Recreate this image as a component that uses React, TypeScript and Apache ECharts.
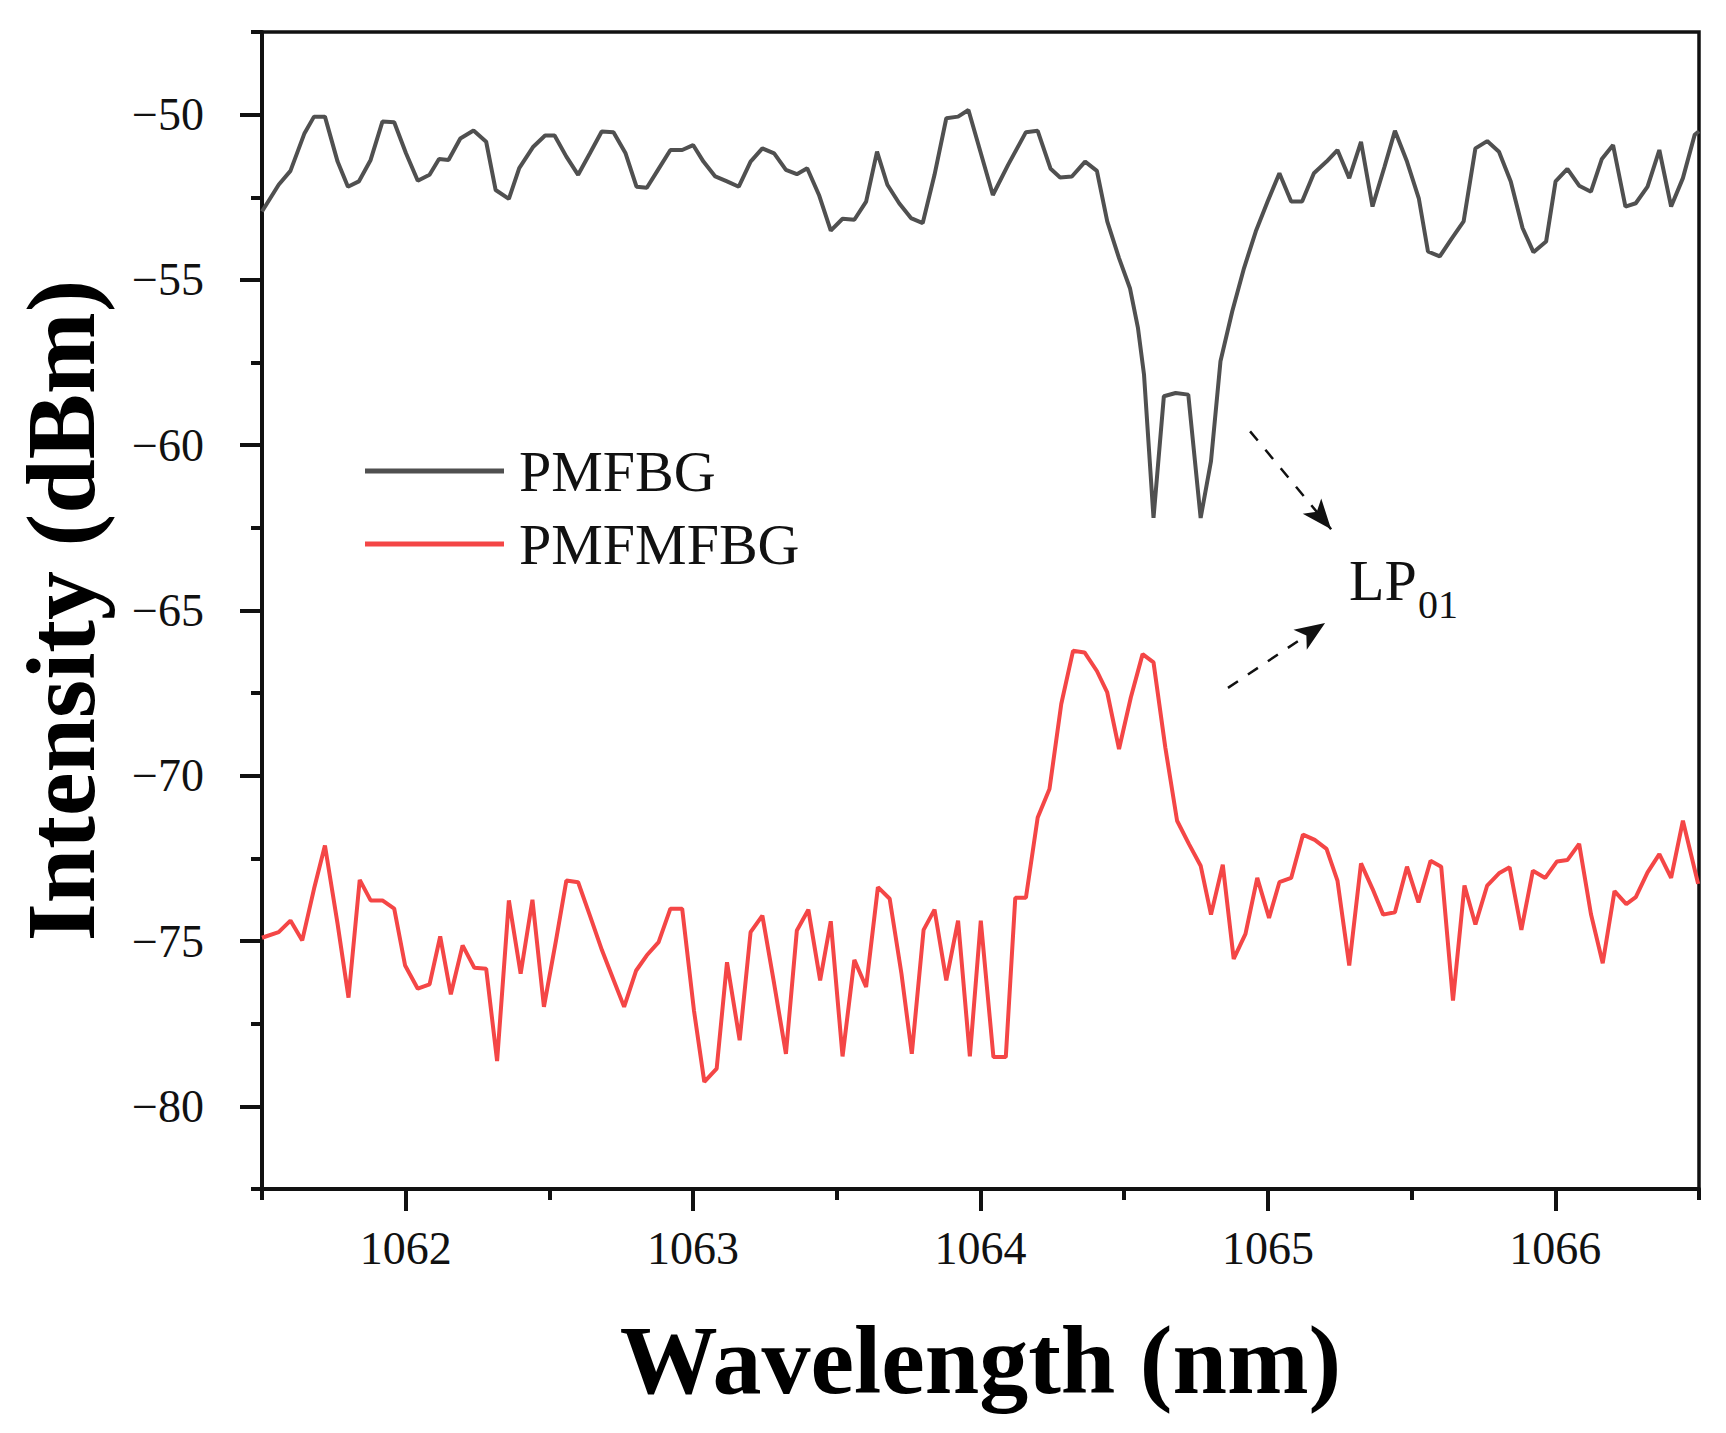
import React, { useEffect, useRef } from "react";
import * as echarts from "echarts";

// ---- data ----
const pmfbgWavelength = [
  1061.5, 1061.558, 1061.599, 1061.648, 1061.681, 1061.719, 1061.763, 1061.799, 1061.837, 1061.878,
  1061.919, 1061.96, 1062.001, 1062.042, 1062.083, 1062.116, 1062.149, 1062.19, 1062.236, 1062.28,
  1062.313, 1062.359, 1062.395, 1062.444, 1062.485, 1062.518, 1062.559, 1062.6, 1062.641, 1062.682,
  1062.723, 1062.765, 1062.803, 1062.839, 1062.88, 1062.921, 1062.962, 1063.0, 1063.036, 1063.077,
  1063.118, 1063.159, 1063.2, 1063.241, 1063.282, 1063.323, 1063.361, 1063.397, 1063.438, 1063.479,
  1063.52, 1063.561, 1063.602, 1063.64, 1063.676, 1063.717, 1063.758, 1063.799, 1063.84, 1063.881,
  1063.922, 1063.958, 1064.043, 1064.096, 1064.158, 1064.199, 1064.244, 1064.277, 1064.318, 1064.364,
  1064.405, 1064.441, 1064.482, 1064.52, 1064.548, 1064.569, 1064.602, 1064.638, 1064.679, 1064.723,
  1064.766, 1064.802, 1064.835, 1064.876, 1064.917, 1064.958, 1064.999, 1065.04, 1065.081, 1065.119,
  1065.16, 1065.204, 1065.242, 1065.283, 1065.324, 1065.364, 1065.406, 1065.442, 1065.484, 1065.525,
  1065.557, 1065.598, 1065.64, 1065.681, 1065.722, 1065.763, 1065.804, 1065.845, 1065.886, 1065.924,
  1065.968, 1066.001, 1066.042, 1066.083, 1066.124, 1066.162, 1066.201, 1066.244, 1066.28, 1066.321,
  1066.362, 1066.403, 1066.444, 1066.485, 1066.5,
];
const pmfbgIntensity = [
  -52.93, -52.12, -51.7, -50.56, -50.06, -50.06, -51.42, -52.18, -52.02, -51.37,
  -50.21, -50.23, -51.17, -52.0, -51.82, -51.34, -51.37, -50.72, -50.48, -50.82,
  -52.28, -52.55, -51.62, -50.97, -50.63, -50.63, -51.27, -51.82, -51.17, -50.51,
  -50.53, -51.17, -52.18, -52.21, -51.64, -51.07, -51.07, -50.92, -51.42, -51.87,
  -52.02, -52.18, -51.42, -51.02, -51.17, -51.67, -51.8, -51.62, -52.43, -53.51,
  -53.15, -53.18, -52.63, -51.12, -52.12, -52.68, -53.13, -53.28, -51.82, -50.11,
  -50.06, -49.86, -52.43, -51.52, -50.53, -50.49, -51.64, -51.9, -51.87, -51.42,
  -51.7, -53.23, -54.34, -55.25, -56.46, -57.87, -62.2, -58.52, -58.42, -58.47,
  -62.2, -60.48, -57.46, -55.95, -54.64, -53.53, -52.63, -51.77, -52.63, -52.63,
  -51.77, -51.42, -51.07, -51.92, -50.82, -52.78, -51.57, -50.49, -51.42, -52.53,
  -54.14, -54.29, -53.74, -53.23, -51.02, -50.8, -51.12, -52.02, -53.43, -54.16,
  -53.84, -52.02, -51.64, -52.15, -52.33, -51.34, -50.92, -52.78, -52.68, -52.18,
  -51.07, -52.78, -51.92, -50.61, -50.5,
];

const pmfmfbgWavelength = [
  1061.5, 1061.558, 1061.599, 1061.64, 1061.681, 1061.719, 1061.763, 1061.801, 1061.84, 1061.878,
  1061.919, 1061.96, 1061.998, 1062.042, 1062.083, 1062.12, 1062.157, 1062.198, 1062.239, 1062.28,
  1062.318, 1062.359, 1062.4, 1062.441, 1062.481, 1062.523, 1062.559, 1062.6, 1062.641, 1062.683,
  1062.724, 1062.76, 1062.802, 1062.839, 1062.88, 1062.921, 1062.962, 1063.003, 1063.039, 1063.082,
  1063.118, 1063.162, 1063.2, 1063.241, 1063.282, 1063.323, 1063.361, 1063.401, 1063.442, 1063.479,
  1063.52, 1063.561, 1063.602, 1063.643, 1063.684, 1063.725, 1063.761, 1063.802, 1063.84, 1063.881,
  1063.922, 1063.963, 1064.001, 1064.045, 1064.088, 1064.121, 1064.158, 1064.199, 1064.24, 1064.281,
  1064.322, 1064.362, 1064.405, 1064.441, 1064.482, 1064.523, 1064.564, 1064.602, 1064.643, 1064.684,
  1064.725, 1064.766, 1064.802, 1064.843, 1064.881, 1064.922, 1064.963, 1065.004, 1065.04, 1065.081,
  1065.122, 1065.163, 1065.204, 1065.242, 1065.283, 1065.324, 1065.364, 1065.401, 1065.442, 1065.484,
  1065.524, 1065.566, 1065.603, 1065.644, 1065.684, 1065.722, 1065.763, 1065.804, 1065.841, 1065.882,
  1065.922, 1065.965, 1066.006, 1066.042, 1066.083, 1066.124, 1066.165, 1066.206, 1066.247, 1066.28,
  1066.321, 1066.362, 1066.403, 1066.444, 1066.497,
];
const pmfmfbgIntensity = [
  -74.9, -74.73, -74.38, -74.98, -73.42, -72.11, -74.48, -76.71, -73.15, -73.77,
  -73.77, -74.02, -75.74, -76.44, -76.31, -74.86, -76.61, -75.13, -75.81, -75.84,
  -78.63, -73.77, -75.99, -73.75, -76.99, -74.98, -73.17, -73.22, -74.23, -75.28,
  -76.19, -76.99, -75.89, -75.43, -75.03, -74.02, -74.02, -77.1, -79.26, -78.86,
  -75.64, -78.0, -74.73, -74.23, -76.29, -78.41, -74.68, -74.05, -76.19, -74.4,
  -78.49, -75.57, -76.39, -73.37, -73.72, -75.99, -78.41, -74.66, -74.05, -76.19,
  -74.38, -78.49, -74.38, -78.51, -78.51, -73.69, -73.69, -71.26, -70.4, -67.83,
  -66.22, -66.27, -66.83, -67.48, -69.19, -67.63, -66.32, -66.57, -69.14, -71.36,
  -72.06, -72.72, -74.2, -72.69, -75.54, -74.78, -73.09, -74.3, -73.22, -73.09,
  -71.78, -71.94, -72.21, -73.17, -75.74, -72.65, -73.42, -74.2, -74.13, -72.75,
  -73.83, -72.57, -72.75, -76.8, -73.32, -74.5, -73.32, -72.95, -72.77, -74.66,
  -72.87, -73.09, -72.59, -72.55, -72.06, -74.18, -75.67, -73.49, -73.88, -73.67,
  -72.92, -72.37, -73.09, -71.36, -73.27,
];

const seriesNames = ["PMFBG", "PMFMFBG"];
const xMajorTicks = [1062, 1063, 1064, 1065, 1066];
const xMinorTicks = [1061.5, 1062.5, 1063.5, 1064.5, 1065.5, 1066.5];
const yMajorTicks = [-80, -75, -70, -65, -60, -55, -50];
const yMinorTicks = [-82.5, -77.5, -72.5, -67.5, -62.5, -57.5, -52.5, -47.5];
const annotationLabel = "LP";
const annotationSub = "01";
// arrows: [from wavelength, from dBm, to wavelength, to dBm]
const arrowUpper = [1064.938, -59.58, 1065.22, -62.54];
const arrowLower = [1064.861, -67.34, 1065.199, -65.38];

const FONT = "'Liberation Serif', 'Times New Roman', serif";
const AXIS_COLOR = "#111";
const GREY = "#505050";
const RED = "#f44646";

function pairs(xs: number[], ys: number[]) {
  return xs.map((x, i) => [x, ys[i]]);
}

export default function App() {
  const ref = useRef<HTMLDivElement>(null);

  useEffect(() => {
    if (!ref.current) return;
    const chart = echarts.init(ref.current, undefined, { renderer: "svg" });
    const minus = (v: number) => String(v).replace("-", "\u2212");
    const plain = (v: number) => String(v);

    const option: any = {
      animation: false,
      backgroundColor: "#fff",
      grid: {
        left: 262,
        right: 27,
        top: 32,
        bottom: 244,
        show: true,
        borderColor: AXIS_COLOR,
        borderWidth: 3.5,
        backgroundColor: "transparent",
      },
      legend: {
        orient: "vertical",
        left: 360,
        top: 437,
        itemWidth: 139,
        itemHeight: 5,
        itemGap: 15,
        selectedMode: false,
        icon: "rect",
        data: seriesNames,
        textStyle: {
          fontFamily: FONT,
          fontSize: 58,
          color: "#111",
          padding: [0, 0, 0, 10],
        },
      },
      xAxis: [
        {
          type: "value",
          min: 1061.5,
          max: 1066.5,
          position: "bottom",
          name: "Wavelength (nm)",
          nameLocation: "middle",
          nameGap: 122,
          nameTextStyle: { fontFamily: FONT, fontSize: 98, fontWeight: "bold", color: "#000" },
          axisLine: { show: true, onZero: false, lineStyle: { color: AXIS_COLOR, width: 4 } },
          axisTick: { show: true, length: 22, customValues: xMajorTicks, lineStyle: { color: AXIS_COLOR, width: 4 } },
          axisLabel: {
            customValues: xMajorTicks,
            formatter: plain,
            fontFamily: FONT,
            fontSize: 46,
            color: "#111",
            margin: 36,
          },
          splitLine: { show: false },
        },
        {
          type: "value",
          min: 1061.5,
          max: 1066.5,
          position: "bottom",
          axisLine: { show: false, onZero: false },
          axisTick: { show: true, length: 11, customValues: xMinorTicks, lineStyle: { color: AXIS_COLOR, width: 4 } },
          axisLabel: { show: false },
          splitLine: { show: false },
        },
      ],
      yAxis: [
        {
          type: "value",
          min: -82.5,
          max: -47.5,
          position: "left",
          name: "Intensity (dBm)",
          nameLocation: "middle",
          nameGap: 152,
          nameTextStyle: { fontFamily: FONT, fontSize: 98, fontWeight: "bold", color: "#000" },
          axisLine: { show: true, onZero: false, lineStyle: { color: AXIS_COLOR, width: 4 } },
          axisTick: { show: true, length: 22, customValues: yMajorTicks, lineStyle: { color: AXIS_COLOR, width: 4 } },
          axisLabel: {
            customValues: yMajorTicks,
            formatter: minus,
            fontFamily: FONT,
            fontSize: 46,
            color: "#111",
            margin: 58,
          },
          splitLine: { show: false },
        },
        {
          type: "value",
          min: -82.5,
          max: -47.5,
          position: "left",
          axisLine: { show: false, onZero: false },
          axisTick: { show: true, length: 11, customValues: yMinorTicks, lineStyle: { color: AXIS_COLOR, width: 4 } },
          axisLabel: { show: false },
          splitLine: { show: false },
        },
      ],
      series: [
        {
          name: seriesNames[0],
          type: "line",
          xAxisIndex: 0,
          yAxisIndex: 0,
          data: pairs(pmfbgWavelength, pmfbgIntensity),
          symbol: "none",
          lineStyle: { color: GREY, width: 4 },
          itemStyle: { color: GREY },
        },
        {
          name: seriesNames[1],
          type: "line",
          xAxisIndex: 0,
          yAxisIndex: 0,
          data: pairs(pmfmfbgWavelength, pmfmfbgIntensity),
          symbol: "none",
          lineStyle: { color: RED, width: 4 },
          itemStyle: { color: RED },
          markLine: {
            silent: true,
            symbol: ["none", "arrow"],
            symbolSize: [18, 30],
            label: { show: false },
            lineStyle: { color: "#111", width: 2.5, type: [12, 12] },
            emphasis: { disabled: true },
            data: [
              [
                { coord: [arrowUpper[0], arrowUpper[1]] },
                { coord: [arrowUpper[2], arrowUpper[3]] },
              ],
              [
                { coord: [arrowLower[0], arrowLower[1]] },
                { coord: [arrowLower[2], arrowLower[3]] },
              ],
            ],
          },
        },
      ],
      graphic: [
        {
          type: "text",
          x: 1349,
          y: 580,
          style: {
            text: annotationLabel,
            fontFamily: FONT,
            fontSize: 58,
            fill: "#111",
            align: "left",
            verticalAlign: "middle",
          },
        },
        {
          type: "text",
          x: 1418,
          y: 604,
          style: {
            text: annotationSub,
            fontFamily: FONT,
            fontSize: 40,
            fill: "#111",
            align: "left",
            verticalAlign: "middle",
          },
        },
      ],
    };

    chart.setOption(option);
    return () => chart.dispose();
  }, []);

  return (
    <div
      ref={ref}
      style={{ position: "absolute", left: 0, top: 0, width: 1726, height: 1433, background: "#fff" }}
    />
  );
}
